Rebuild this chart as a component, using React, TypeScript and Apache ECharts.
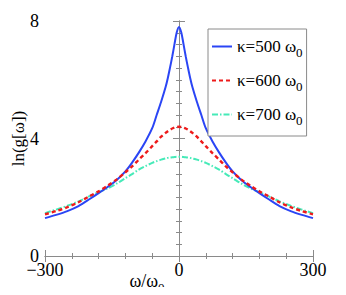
import React, { useEffect, useRef } from "react";
import * as echarts from "echarts";

const omegaHalf = [0, 5, 10, 15, 20, 25, 30, 40, 50, 60, 75, 90, 105, 120, 140, 160, 180, 200, 225, 250, 275, 300];
const k500 = [7.8, 7.62, 7.22, 6.8, 6.42, 6.06, 5.75, 5.25, 4.8, 4.35, 3.9, 3.52, 3.18, 2.88, 2.58, 2.35, 2.14, 1.94, 1.7, 1.53, 1.4, 1.29];
const k600 = [4.4, 4.39, 4.37, 4.34, 4.3, 4.25, 4.19, 4.06, 3.9, 3.74, 3.5, 3.28, 3.05, 2.85, 2.6, 2.39, 2.2, 2.04, 1.83, 1.66, 1.53, 1.42];
const k700 = [3.38, 3.38, 3.37, 3.36, 3.35, 3.34, 3.32, 3.28, 3.23, 3.17, 3.06, 2.94, 2.79, 2.65, 2.46, 2.3, 2.17, 2.04, 1.86, 1.71, 1.58, 1.46];
const seriesNames = ["κ=500", "κ=600", "κ=700"];
const xTicks = [-300, 0, 300];
const yTicks = [0, 4, 8];

function mirror(vals: number[]): number[][] {
  const pts: number[][] = [];
  for (let i = omegaHalf.length - 1; i > 0; i--) pts.push([-omegaHalf[i], vals[i]]);
  for (let i = 0; i < omegaHalf.length; i++) pts.push([omegaHalf[i], vals[i]]);
  return pts;
}

const SERIF = "Liberation Serif, Times New Roman, serif";
const FRAME = "#8a8a8a";

export default function App() {
  const ref = useRef<HTMLDivElement>(null);
  useEffect(() => {
    if (!ref.current) return;
    const chart = echarts.init(ref.current, null, { renderer: "svg" });
    const axisCommon = {
      axisLine: { show: true, lineStyle: { color: FRAME, width: 1 } },
      axisTick: { show: true, inside: true, length: 6, lineStyle: { color: FRAME } },
      minorTick: { show: true, length: 3, lineStyle: { color: FRAME } },
      splitLine: { show: false },
    };
    const fmt = (v: number) => (v < 0 ? "−" + Math.abs(v) : String(v));
    chart.setOption({
      animation: false,
      backgroundColor: "#ffffff",
      textStyle: { fontFamily: SERIF },
      grid: { left: 45, right: 33, top: 21, bottom: 39, outerBoundsMode: "none", containLabel: false },
      xAxis: [
        {
          type: "value",
          min: xTicks[0],
          max: xTicks[xTicks.length - 1],
          interval: 300,
          ...axisCommon,
          minorTick: { ...axisCommon.minorTick, splitNumber: 5 },
          axisLabel: { color: "#000", fontFamily: SERIF, fontSize: 18, margin: 5, formatter: fmt },
          name: "{a|ω/ω}{s|0}",
          nameLocation: "middle",
          nameGap: 11,
          nameMoveOverlap: false,
          nameTextStyle: {
            padding: [0, 64, 0, 0],
            rich: {
              a: { fontFamily: SERIF, fontSize: 18, color: "#000" },
              s: { fontFamily: SERIF, fontSize: 13, color: "#000", padding: [14, 0, 0, 0] },
            },
          },
        },
        {
          type: "value",
          position: "top",
          min: xTicks[0],
          max: xTicks[xTicks.length - 1],
          interval: 300,
          ...axisCommon,
          minorTick: { ...axisCommon.minorTick, splitNumber: 5 },
          axisLabel: { show: false },
        },
      ],
      yAxis: [
        {
          type: "value",
          min: yTicks[0],
          max: yTicks[yTicks.length - 1],
          interval: 4,
          ...axisCommon,
          minorTick: { ...axisCommon.minorTick, splitNumber: 10 },
          axisLabel: { color: "#000", fontFamily: SERIF, fontSize: 18, margin: 6 },
          name: "ln(g[ω])",
          nameLocation: "middle",
          nameGap: 18,
          nameMoveOverlap: false,
          nameRotate: 90,
          nameTextStyle: { fontFamily: SERIF, fontSize: 17, color: "#000" },
        },
        {
          type: "value",
          position: "right",
          min: yTicks[0],
          max: yTicks[yTicks.length - 1],
          interval: 4,
          ...axisCommon,
          minorTick: { ...axisCommon.minorTick, splitNumber: 10 },
          axisLabel: { show: false },
        },
      ],
      legend: {
        orient: "vertical",
        left: 208,
        top: 29,
        padding: [9, 4, 9, 3],
        itemGap: 13,
        itemWidth: 20,
        itemHeight: 10,
        backgroundColor: "#ffffff",
        borderColor: FRAME,
        borderWidth: 1,
        borderRadius: 0,
        itemStyle: { opacity: 0 },
        formatter: (name: string) => `{a|${name} ω}{s|0}`,
        textStyle: {
          rich: {
            a: { fontFamily: SERIF, fontSize: 17, color: "#000" },
            s: { fontFamily: SERIF, fontSize: 13, color: "#000", padding: [12, 0, 0, 0] },
          },
        },
        data: seriesNames,
      },
      series: [
        {
          name: seriesNames[0],
          type: "line",
          data: mirror(k500),
          symbol: "none",
          smooth: 0.3,
          lineStyle: { color: "#2a45f5", width: 2 },
          itemStyle: { color: "#2a45f5" },
          z: 3,
        },
        {
          name: seriesNames[1],
          type: "line",
          data: mirror(k600),
          symbol: "none",
          smooth: 0.3,
          lineStyle: { color: "#ee1a1a", width: 2.4, type: [4, 3] },
          itemStyle: { color: "#ee1a1a" },
          z: 4,
        },
        {
          name: seriesNames[2],
          type: "line",
          data: mirror(k700),
          symbol: "none",
          smooth: 0.3,
          lineStyle: { color: "#46eab8", width: 2, type: [6, 2, 1.5, 2] },
          itemStyle: { color: "#46eab8" },
          z: 2,
        },
      ],
    });
    return () => chart.dispose();
  }, []);
  return <div ref={ref} style={{ width: 346, height: 295, margin: -8 }} />;
}
